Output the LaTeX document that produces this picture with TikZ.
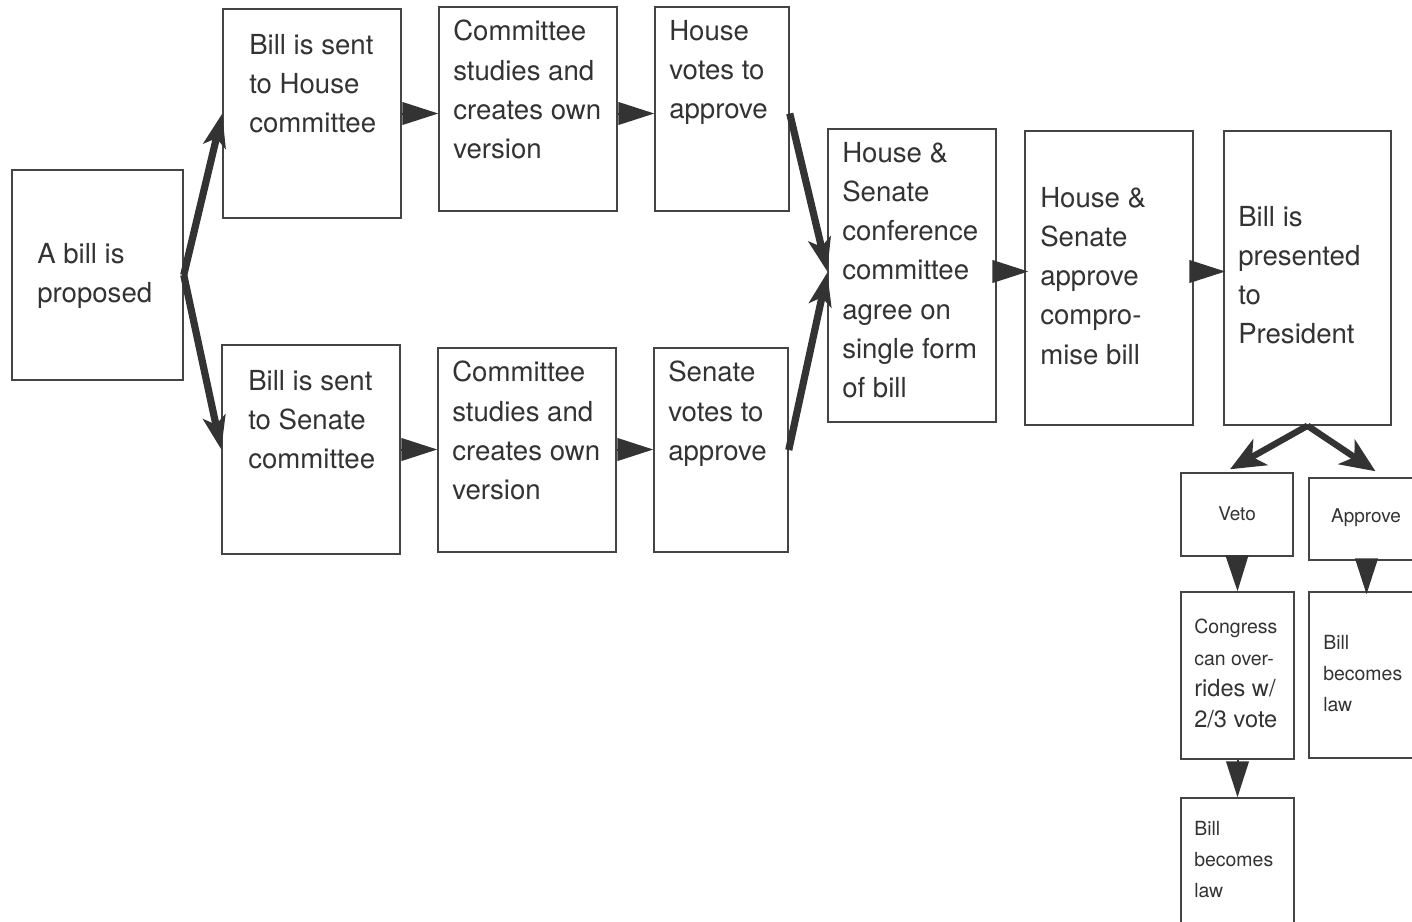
\documentclass[tikz,border=0pt]{standalone}
\usepackage{fontspec}
\setmainfont{TeX Gyre Heros}
\usetikzlibrary{arrows.meta,calc}
\definecolor{ink}{HTML}{333333}
\definecolor{edge}{HTML}{444444}
% a framed box given by its corners (x1,y1) and (x2,y2)
\newcommand\stagebox[5]{%
  \node[stagefrm, minimum width={(#4-#2)*0.75pt}, minimum height={(#5-#3)*0.75pt}]
    (#1) at ({(#2+#4)/2},{(#3+#5)/2}) {};}
\begin{document}
\begin{tikzpicture}[x=0.75pt,y=-0.75pt,
  stagefrm/.style={draw=edge, line width=1.1pt, fill=white, rectangle, inner sep=0pt},
  bigtxt/.style={text=ink, align=left, anchor=north west, inner sep=0pt,
    font={\fontsize{20.7pt}{29.4pt}\selectfont}},
  smalltxt/.style={text=ink, align=left, anchor=north west, inner sep=0pt,
    font={\fontsize{14.6pt}{23.4pt}\selectfont}},
  midtxt/.style={text=ink, align=center, inner sep=0pt,
    font={\fontsize{14.2pt}{17pt}\selectfont}},
  stub/.style={draw=ink, line width=1.5pt, -{Triangle[length=27pt,width=17pt]}},
  long/.style={draw=ink, line width=5.4pt, -{Stealth[length=25pt,width=17pt,inset=6pt]}},
  fork/.style={draw=ink, line width=4.8pt, -{Stealth[length=26pt,width=22pt,inset=7pt]}}]

\useasboundingbox (0,0) rectangle (1412,921);

% boxes
\stagebox{A}{12}{170}{183}{380}
\stagebox{HB}{223}{9}{401}{218}
\stagebox{HC}{439}{7}{617}{211}
\stagebox{HV}{655}{7}{789}{211}
\stagebox{SB}{222}{345}{400}{554}
\stagebox{SC}{438}{348}{616}{552}
\stagebox{SV}{654}{348}{788}{552}
\stagebox{CF}{828}{129}{996}{422}
\stagebox{CB}{1025}{131}{1193}{425}
\stagebox{PR}{1224}{131}{1391}{425}
\stagebox{VE}{1181}{473}{1293}{556}
\stagebox{AP}{1309}{478}{1424}{560}
\stagebox{OV}{1181}{592}{1294}{759}
\stagebox{LA}{1309}{592}{1424}{758}
\stagebox{LB}{1181}{798}{1294}{940}

% texts
\node[bigtxt] (tA)  at (37,243)   {A bill is\\proposed};
\node[bigtxt] (tHB) at (249,34)   {Bill is sent\\to House\\committee};
\node[bigtxt] (tHC) at (453,20)   {Committee\\studies and\\creates own\\version};
\node[bigtxt] (tHV) at (669,20)   {House\\votes to\\approve};
\node[bigtxt] (tSB) at (248,370)  {Bill is sent\\to Senate\\committee};
\node[bigtxt] (tSC) at (452,361)  {Committee\\studies and\\creates own\\version};
\node[bigtxt] (tSV) at (668,361)  {Senate\\votes to\\approve};
\node[bigtxt] (tCF) at (842,142)  {House \&\\Senate\\conference\\committee\\agree on\\single form\\of bill};
\node[bigtxt] (tCB) at (1040,187) {House \&\\Senate\\approve\\compro-\\mise bill};
\node[bigtxt] (tPR) at (1238,206) {Bill is\\presented\\to\\President};
\node[midtxt] (tVE) at (1237,514) {Veto};
\node[midtxt] (tAP) at (1366,518) {Approve};
\node[smalltxt] (tOV) at (1194,619) {Congress\\can over-\\{\fontsize{17.7pt}{23.4pt}\selectfont rides w/}\\{\fontsize{17.7pt}{23.4pt}\selectfont 2/3 vote}};
\node[smalltxt] (tLA) at (1323,635) {Bill\\becomes\\law};
\node[smalltxt] (tLB) at (1194,821) {Bill\\becomes\\law};

% connectors
\draw[long] (A.east) -- (HB.west);
\draw[long] (A.east) -- (SB.west);
\draw[stub] (HB.east) -- (HB.east -| HC.west);
\draw[stub] (HC.east |- HB.east) -- (HV.west |- HB.east);
\draw[stub] (SB.east) -- (SB.east -| SC.west);
\draw[stub] (SC.east |- SB.east) -- (SV.west |- SB.east);
\draw[long] (HV.east |- HB.east) -- ($(CF.west)+(0,-4)$);
\draw[long] (SV.east) -- ($(CF.west)+(0,-3)$);
\draw[stub] ($(CF.east)+(0,-4)$) -- ($(CF.east -| CB.west)+(4,-4)$);
\draw[stub] ($(CB.east |- CF.east)+(0,-4)$) -- ($(PR.west |- CF.east)+(2,-4)$);
\draw[fork] (PR.south) -- ($(VE.north)+(-7,-3)$);
\draw[fork] (PR.south) -- ($(AP.north)+(9,-6)$);
\draw[stub] (VE.south) -- (OV.north);
\draw[stub] (AP.south) -- ($(AP.south |- LA.north)+(0,3)$);
\draw[stub] (OV.south) -- (LB.north);
\end{tikzpicture}
\end{document}
